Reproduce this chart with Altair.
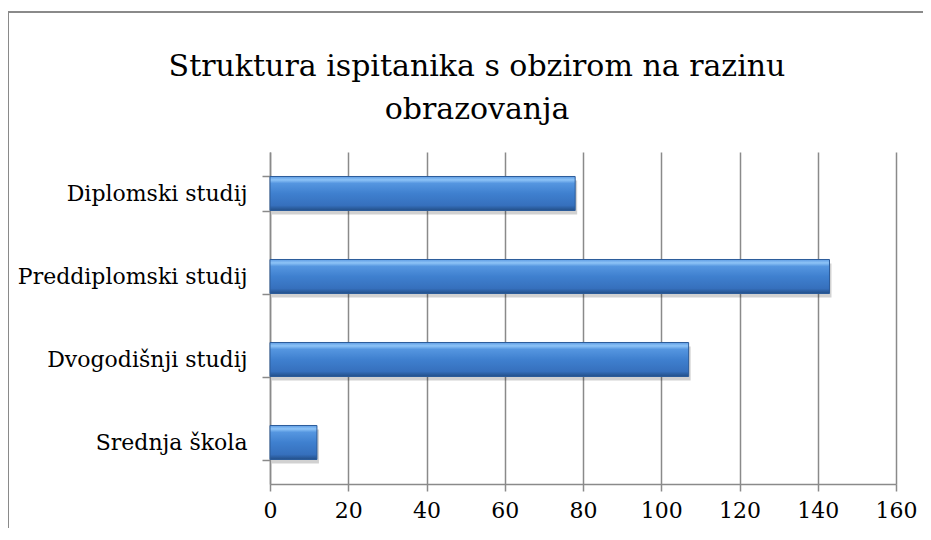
import altair as alt
import pandas as pd

categories = ["Diplomski studij", "Preddiplomski studij", "Dvogodišnji studij", "Srednja škola"]
values = [78, 143, 107, 12]
x_ticks = [0, 20, 40, 60, 80, 100, 120, 140, 160]
title_lines = ["Struktura ispitanika s obzirom na razinu", "obrazovanja"]

df = pd.DataFrame({"kategorija": categories, "broj": values})

FONT = "DejaVu Serif"
GRID = "#8a8a8a"

y_enc = alt.Y(
    "kategorija:N",
    sort=categories,
    title=None,
    scale=alt.Scale(paddingInner=0.59, paddingOuter=0.295),
    axis=alt.Axis(
        tickBand="extent",
        tickSize=8,
        tickColor=GRID,
        tickWidth=1.5,
        domainColor=GRID,
        domainWidth=1.5,
        labelFont=FONT,
        labelFontSize=22,
        labelColor="#000000",
        labelPadding=15,
        labelLimit=400,
        grid=False,
    ),
)
x_enc = alt.X(
    "broj:Q",
    title=None,
    scale=alt.Scale(domain=[0, 160], nice=False),
    axis=alt.Axis(
        values=x_ticks,
        grid=True,
        gridColor=GRID,
        gridWidth=1.5,
        tickSize=7,
        tickColor=GRID,
        tickWidth=1.5,
        domainColor=GRID,
        domainWidth=1.5,
        labelFont=FONT,
        labelFontSize=22,
        labelColor="#000000",
        labelPadding=9,
        labelFlush=False,
    ),
)

frame_left = alt.Chart(df).mark_rule(
    stroke="#8a8a8a", strokeWidth=1.5, clip=False
).encode(
    x=alt.value(-262), y=alt.value(-140), y2=alt.value(376)
)
frame_top = alt.Chart(df).mark_rule(
    stroke="#8a8a8a", strokeWidth=1.5, clip=False
).encode(
    x=alt.value(-262), x2=alt.value(653), y=alt.value(-140)
)

shadow = alt.Chart(df).mark_bar(
    color="#000000", opacity=0.18, xOffset=2, yOffset=4
).encode(x=x_enc, y=y_enc)

bars = alt.Chart(df).mark_bar(
    color=alt.Gradient(
        gradient="linear",
        x1=0, x2=0, y1=0, y2=1,
        stops=[
            alt.GradientStop(offset=0, color="#5d9be3"),
            alt.GradientStop(offset=0.1, color="#8ec4f7"),
            alt.GradientStop(offset=0.2, color="#5596e0"),
            alt.GradientStop(offset=0.5, color="#3f80cf"),
            alt.GradientStop(offset=0.85, color="#3670bd"),
            alt.GradientStop(offset=1, color="#234f88"),
        ],
    ),
    stroke="#2c5c9a",
    strokeWidth=1,
).encode(x=x_enc, y=y_enc)

chart = alt.layer(frame_left, frame_top, shadow, bars).properties(
    width=626,
    height=332,
    autosize=alt.AutoSizeParams(type="none"),
    padding={"left": 262, "top": 144, "right": 27, "bottom": 48},
    title=alt.TitleParams(
        text=title_lines,
        font=FONT,
        fontSize=30,
        fontWeight="normal",
        color="#000000",
        lineHeight=43,
        anchor="middle",
        dx=-106,
        dy=134,
        offset=20,
    ),
).configure_view(stroke=None)

chart.save("out.html", embed_options={"renderer": "svg", "actions": False})
